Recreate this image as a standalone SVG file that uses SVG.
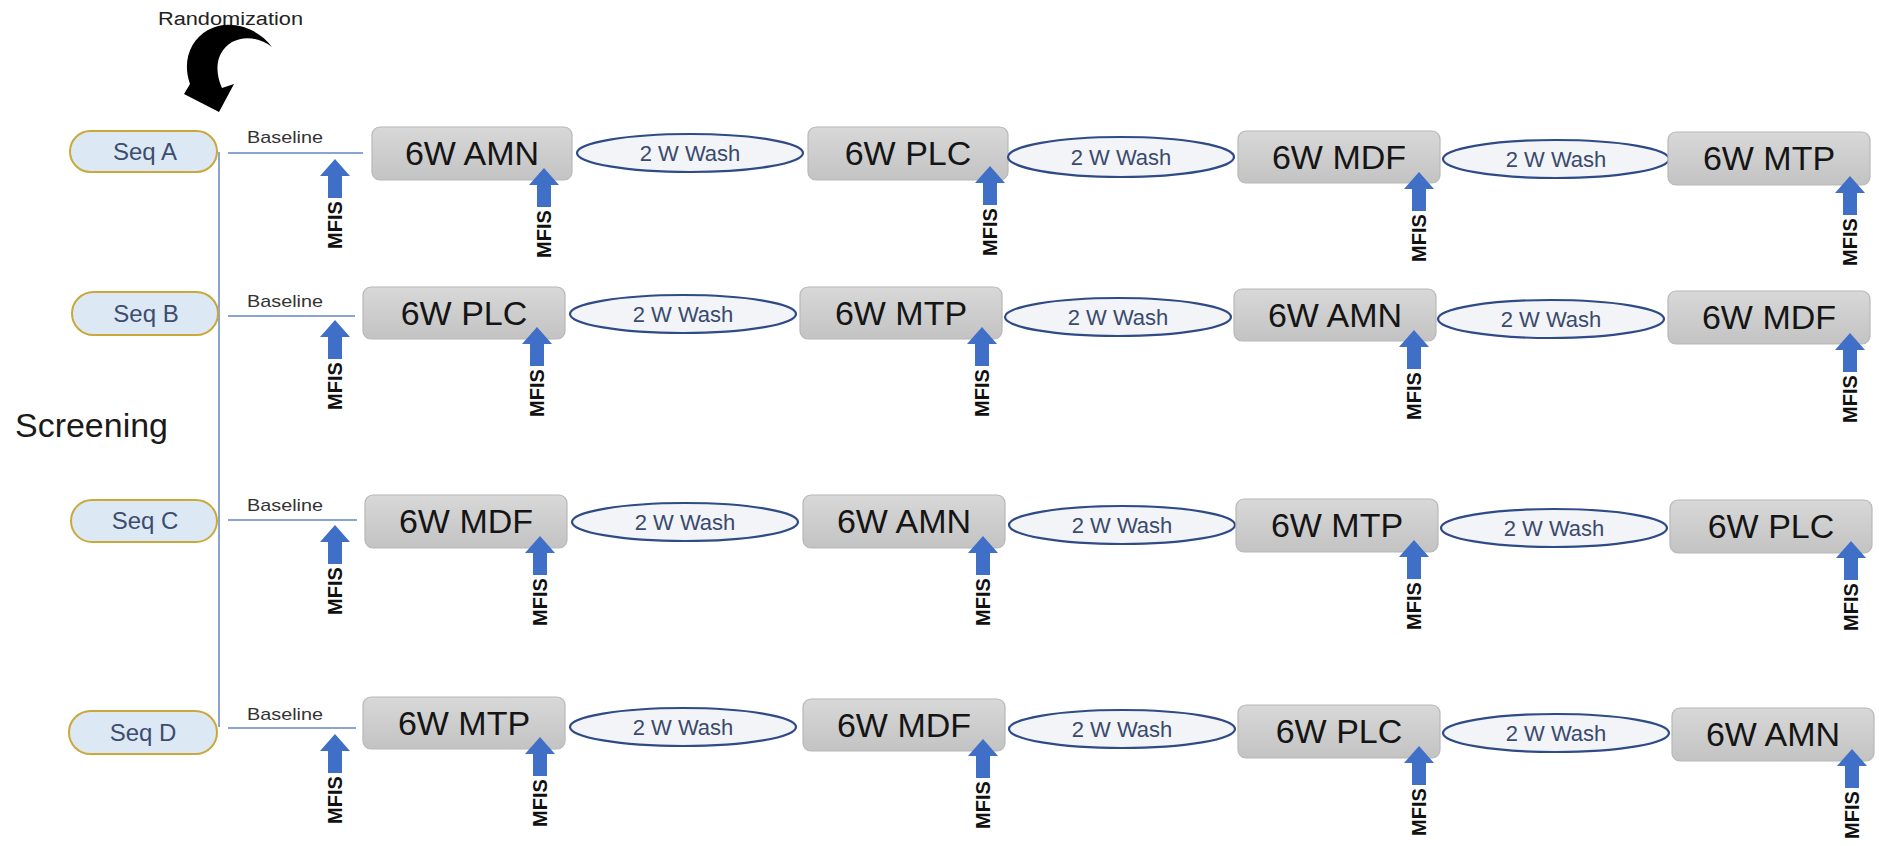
<svg xmlns="http://www.w3.org/2000/svg" xmlns:xlink="http://www.w3.org/1999/xlink" width="1879" height="846" viewBox="0 0 1879 846">
<style>
text{font-family:"Liberation Sans",Arial,sans-serif}
.pill{fill:#dde8f5;stroke:#c9a93c;stroke-width:2}
.seq{font-size:24px;fill:#3c4d6e;text-anchor:middle}
.box{fill:url(#gbox);stroke:#b8b8b8;stroke-width:1.2}
.bt{font-size:34px;fill:#151515;text-anchor:middle}
.wash{fill:#f2f4f8;stroke:#2f4b86;stroke-width:2.2}
.wt{font-size:22px;fill:#3a4a6c;text-anchor:middle}
.ln{stroke:#8aa5d2;stroke-width:2;fill:none}
.bl{font-size:17px;fill:#333}
.mf{font-size:20px;font-weight:bold;fill:#111}
.up{fill:#3f6fc6}
</style>
<defs>
<linearGradient id="gbox" x1="0" y1="0" x2="0" y2="1">
<stop offset="0" stop-color="#d8d8d8"/>
<stop offset="1" stop-color="#c3c3c3"/>
</linearGradient>
<path id="upArrow" class="up" d="M0,0 L15,17 L7,17 L7,39 L-7,39 L-7,17 L-15,17 Z"/>
<g id="mfis"><use xlink:href="#upArrow"/><text class="mf" transform="translate(7,90) rotate(-90)">MFIS</text></g>
</defs>
<rect width="1879" height="846" fill="#ffffff"/>

<g id="header">
<text x="158" y="25" font-size="18" fill="#222" textLength="145" lengthAdjust="spacingAndGlyphs">Randomization</text>
<path d="M272,47 C258,28 230,18 208,30 C190,40 182,62 190,84 L184,94 L219,112 L234,84 L222,88 C214,70 216,52 232,42 C245,35 260,38 272,47 Z" fill="#000"/>
<text x="15" y="437" font-size="33" fill="#1a1a1a" textLength="153" lengthAdjust="spacingAndGlyphs">Screening</text>
</g>

<g id="connectors">
<line class="ln" x1="219" y1="152" x2="219" y2="727"/>
<line class="ln" x1="228" y1="153" x2="363" y2="153"/>
<line class="ln" x1="228" y1="316" x2="355" y2="316"/>
<line class="ln" x1="228" y1="520" x2="357" y2="520"/>
<line class="ln" x1="228" y1="728" x2="356" y2="728"/>
<text class="bl" x="247" y="143" textLength="76" lengthAdjust="spacingAndGlyphs">Baseline</text>
<text class="bl" x="247" y="307" textLength="76" lengthAdjust="spacingAndGlyphs">Baseline</text>
<text class="bl" x="247" y="511" textLength="76" lengthAdjust="spacingAndGlyphs">Baseline</text>
<text class="bl" x="247" y="720" textLength="76" lengthAdjust="spacingAndGlyphs">Baseline</text>
</g>

<!-- Row A -->
<g id="seqA"><rect class="pill" x="70" y="131" width="147" height="41" rx="20.5"/><text class="seq" x="145" y="160">Seq A</text></g>
<g id="A1"><rect class="box" x="372" y="127" width="200" height="53" rx="8"/><text class="bt" x="472" y="165">6W AMN</text></g>
<g id="A_w1"><ellipse class="wash" cx="690" cy="153" rx="113" ry="19"/><text class="wt" x="690" y="161">2 W Wash</text></g>
<g id="A2"><rect class="box" x="808" y="127" width="200" height="53" rx="8"/><text class="bt" x="908" y="165">6W PLC</text></g>
<g id="A_w2"><ellipse class="wash" cx="1121" cy="157" rx="113" ry="20"/><text class="wt" x="1121" y="165">2 W Wash</text></g>
<g id="A3"><rect class="box" x="1238" y="131" width="202" height="52" rx="8"/><text class="bt" x="1339" y="169">6W MDF</text></g>
<g id="A_w3"><ellipse class="wash" cx="1556" cy="159" rx="113" ry="19"/><text class="wt" x="1556" y="167">2 W Wash</text></g>
<g id="A4"><rect class="box" x="1668" y="132" width="202" height="53" rx="8"/><text class="bt" x="1769" y="170">6W MTP</text></g>
<g id="A_mfis">
<use xlink:href="#mfis" transform="translate(335,159)"/>
<use xlink:href="#mfis" transform="translate(544,168)"/>
<use xlink:href="#mfis" transform="translate(990,166)"/>
<use xlink:href="#mfis" transform="translate(1419,172)"/>
<use xlink:href="#mfis" transform="translate(1850,176)"/>
</g>

<!-- Row B -->
<g id="seqB"><rect class="pill" x="72" y="292" width="146" height="43" rx="21.5"/><text class="seq" x="146" y="322">Seq B</text></g>
<g id="B1"><rect class="box" x="363" y="287" width="202" height="52" rx="8"/><text class="bt" x="464" y="325">6W PLC</text></g>
<g id="B_w1"><ellipse class="wash" cx="683" cy="314" rx="113" ry="19"/><text class="wt" x="683" y="322">2 W Wash</text></g>
<g id="B2"><rect class="box" x="800" y="287" width="202" height="52" rx="8"/><text class="bt" x="901" y="325">6W MTP</text></g>
<g id="B_w2"><ellipse class="wash" cx="1118" cy="317" rx="113" ry="19"/><text class="wt" x="1118" y="325">2 W Wash</text></g>
<g id="B3"><rect class="box" x="1234" y="289" width="202" height="52" rx="8"/><text class="bt" x="1335" y="327">6W AMN</text></g>
<g id="B_w3"><ellipse class="wash" cx="1551" cy="319" rx="113" ry="19"/><text class="wt" x="1551" y="327">2 W Wash</text></g>
<g id="B4"><rect class="box" x="1668" y="291" width="202" height="53" rx="8"/><text class="bt" x="1769" y="329">6W MDF</text></g>
<g id="B_mfis">
<use xlink:href="#mfis" transform="translate(335,320)"/>
<use xlink:href="#mfis" transform="translate(537,327)"/>
<use xlink:href="#mfis" transform="translate(982,327)"/>
<use xlink:href="#mfis" transform="translate(1414,330)"/>
<use xlink:href="#mfis" transform="translate(1850,333)"/>
</g>

<!-- Row C -->
<g id="seqC"><rect class="pill" x="71" y="500" width="146" height="42" rx="21"/><text class="seq" x="145" y="529">Seq C</text></g>
<g id="C1"><rect class="box" x="365" y="495" width="202" height="53" rx="8"/><text class="bt" x="466" y="533">6W MDF</text></g>
<g id="C_w1"><ellipse class="wash" cx="685" cy="522" rx="113" ry="19"/><text class="wt" x="685" y="530">2 W Wash</text></g>
<g id="C2"><rect class="box" x="803" y="495" width="202" height="53" rx="8"/><text class="bt" x="904" y="533">6W AMN</text></g>
<g id="C_w2"><ellipse class="wash" cx="1122" cy="525" rx="113" ry="19"/><text class="wt" x="1122" y="533">2 W Wash</text></g>
<g id="C3"><rect class="box" x="1236" y="499" width="202" height="53" rx="8"/><text class="bt" x="1337" y="537">6W MTP</text></g>
<g id="C_w3"><ellipse class="wash" cx="1554" cy="528" rx="113" ry="19"/><text class="wt" x="1554" y="536">2 W Wash</text></g>
<g id="C4"><rect class="box" x="1670" y="500" width="202" height="53" rx="8"/><text class="bt" x="1771" y="538">6W PLC</text></g>
<g id="C_mfis">
<use xlink:href="#mfis" transform="translate(335,525)"/>
<use xlink:href="#mfis" transform="translate(540,536)"/>
<use xlink:href="#mfis" transform="translate(983,536)"/>
<use xlink:href="#mfis" transform="translate(1414,540)"/>
<use xlink:href="#mfis" transform="translate(1851,541)"/>
</g>

<!-- Row D -->
<g id="seqD"><rect class="pill" x="69" y="711" width="148" height="43" rx="21.5"/><text class="seq" x="143" y="741">Seq D</text></g>
<g id="D1"><rect class="box" x="363" y="697" width="202" height="52" rx="8"/><text class="bt" x="464" y="735">6W MTP</text></g>
<g id="D_w1"><ellipse class="wash" cx="683" cy="727" rx="113" ry="19"/><text class="wt" x="683" y="735">2 W Wash</text></g>
<g id="D2"><rect class="box" x="803" y="699" width="202" height="52" rx="8"/><text class="bt" x="904" y="737">6W MDF</text></g>
<g id="D_w2"><ellipse class="wash" cx="1122" cy="729" rx="113" ry="19"/><text class="wt" x="1122" y="737">2 W Wash</text></g>
<g id="D3"><rect class="box" x="1238" y="705" width="202" height="53" rx="8"/><text class="bt" x="1339" y="743">6W PLC</text></g>
<g id="D_w3"><ellipse class="wash" cx="1556" cy="733" rx="113" ry="19"/><text class="wt" x="1556" y="741">2 W Wash</text></g>
<g id="D4"><rect class="box" x="1672" y="708" width="202" height="53" rx="8"/><text class="bt" x="1773" y="746">6W AMN</text></g>
<g id="D_mfis">
<use xlink:href="#mfis" transform="translate(335,734)"/>
<use xlink:href="#mfis" transform="translate(540,737)"/>
<use xlink:href="#mfis" transform="translate(983,739)"/>
<use xlink:href="#mfis" transform="translate(1419,746)"/>
<use xlink:href="#mfis" transform="translate(1852,749)"/>
</g>
</svg>
